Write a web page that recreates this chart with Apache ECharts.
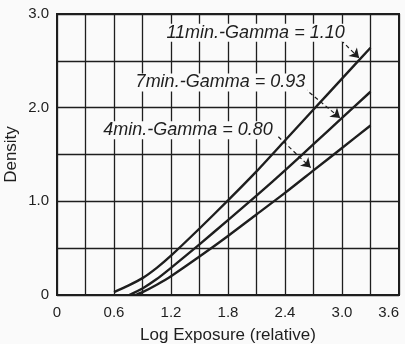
<!DOCTYPE html>
<html>

<head>
    <meta charset="utf-8">
    <title>Density vs Log Exposure</title>
    <script src="https://cdn.jsdelivr.net/npm/echarts@6/dist/echarts.min.js"></script>
    <style>
        html,
        body {
            margin: 0;
            padding: 0;
            height: 100%;
            overflow: hidden;
            background: #fafafa;
        }

        #main {
            width: 405px;
            height: 344px;
        }
    </style>
</head>

<body>
    <div id="main"></div>

    <script>
        // curves: [log exposure, density]
        const logE11 = [0.6, 0.75, 0.9, 1.05, 1.2, 1.5, 1.8, 2.1, 2.4, 2.7, 3.0, 3.3];
        const dens11 = [0.03, 0.10, 0.18, 0.29, 0.42, 0.71, 1.01, 1.32, 1.65, 1.98, 2.31, 2.64];
        const logE7 = [0.76, 0.9, 1.05, 1.2, 1.5, 1.8, 2.1, 2.4, 2.7, 3.0, 3.3];
        const dens7 = [0.0, 0.07, 0.17, 0.29, 0.54, 0.80, 1.06, 1.33, 1.61, 1.89, 2.17];
        const logE4 = [0.83, 0.9, 1.05, 1.2, 1.5, 1.8, 2.1, 2.4, 2.7, 3.0, 3.3];
        const dens4 = [0.0, 0.03, 0.11, 0.20, 0.41, 0.63, 0.86, 1.09, 1.33, 1.57, 1.81];

        const curveNames = ['11min.-Gamma = 1.10', '7min.-Gamma = 0.93', '4min.-Gamma = 0.80'];
        // label anchor and leader line (from, to) in data units
        const labelAt = [[2.09, 2.80], [1.72, 2.27], [1.38, 1.76]];
        const leaderFrom = [[2.99, 2.72], [2.60, 2.21], [2.33, 1.69]];
        const leaderTo = [[3.18, 2.53], [2.98, 1.89], [2.67, 1.36]];

        const xTicks = ['0', '0.6', '1.2', '1.8', '2.4', '3.0', '3.6'];
        const yTicks = ['0', '1.0', '2.0', '3.0'];

        const pairs = (xs, ys) => xs.map((x, i) => [x, ys[i]]);
        const curves = [pairs(logE11, dens11), pairs(logE7, dens7), pairs(logE4, dens4)];

        const ink = '#1e1e1e';
        const font = '"Liberation Sans", sans-serif';

        const chart = echarts.init(document.getElementById('main'));

        chart.setOption({
            animation: false,
            backgroundColor: '#fafafa',
            grid: {
                left: 57, right: 6, top: 14, bottom: 49,
                outerBoundsMode: 'none',
                show: true, borderColor: ink, borderWidth: 2
            },

            xAxis: {
                type: 'value',
                min: 0,
                max: 3.6,
                interval: 0.3,
                axisLine: { show: false },
                axisTick: { show: false },
                axisLabel: {
                    color: ink,
                    fontFamily: font,
                    fontSize: 15,
                    margin: 10,
                    alignMaxLabel: 'right',
                    formatter: v => {
                        const k = Math.round(v / 0.6 * 1000) / 1000;
                        return Number.isInteger(k) ? xTicks[k] : '';
                    }
                },
                splitLine: { show: true, lineStyle: { color: ink, width: 1.3 } },
                name: 'Log Exposure (relative)',
                nameLocation: 'middle',
                nameGap: 32,
                nameTextStyle: { color: ink, fontFamily: font, fontSize: 17 }
            },

            yAxis: {
                type: 'value',
                min: 0,
                max: 3,
                interval: 0.5,
                axisLine: { show: false },
                axisTick: { show: false },
                axisLabel: {
                    color: ink,
                    fontFamily: font,
                    fontSize: 15,
                    margin: 8,
                    formatter: v => Number.isInteger(v) ? yTicks[v] : ''
                },
                splitLine: { show: true, lineStyle: { color: ink, width: 1.3 } },
                name: 'Density',
                nameLocation: 'middle',
                nameGap: 37,
                nameMoveOverlap: false,
                nameTextStyle: { color: ink, fontFamily: font, fontSize: 17 }
            },

            series: curves.map((pts, i) => ({
                type: 'line',
                name: curveNames[i],
                data: pts,
                smooth: 0.25,
                symbol: 'none',
                lineStyle: { color: ink, width: 2.4 },
                markPoint: {
                    symbol: 'circle',
                    symbolSize: 0,
                    data: [{ coord: labelAt[i] }],
                    label: {
                        show: true,
                        position: 'inside',
                        formatter: curveNames[i],
                        color: ink,
                        fontFamily: font,
                        fontStyle: 'italic',
                        fontSize: 18,
                        backgroundColor: '#fafafa',
                        padding: [0, 2]
                    }
                },
                markLine: {
                    silent: true,
                    symbol: ['none', 'arrow'],
                    symbolSize: 9,
                    label: { show: false },
                    lineStyle: { color: ink, type: [4, 3], width: 1.2 },
                    data: [[{ coord: leaderFrom[i] }, { coord: leaderTo[i] }]]
                }
            }))
        });
    </script>

</body>

</html>
